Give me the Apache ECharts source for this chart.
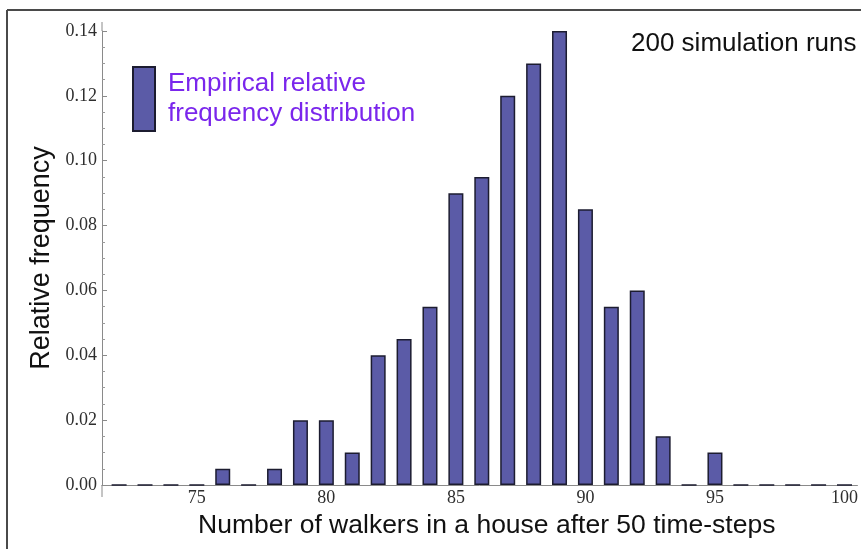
<!DOCTYPE html>
<html><head><meta charset="utf-8">
<script src="https://cdn.jsdelivr.net/npm/echarts@6/dist/echarts.min.js"></script>
<style>html,body{margin:0;padding:0;background:#fff}#c{width:861px;height:549px}</style>
</head><body><div id="c"></div>
<script>
const walkers = [72,73,74,75,76,77,78,79,80,81,82,83,84,85,86,87,88,89,90,91,92,93,94,95,96,97,98,99,100];
const relFreq = [0,0,0,0,0.005,0,0.005,0.02,0.02,0.01,0.04,0.045,0.055,0.09,0.095,0.12,0.13,0.14,0.085,0.055,0.06,0.015,0,0.01,0,0,0,0,0];
const titleText = '200 simulation runs';
const seriesName = 'Empirical relative\nfrequency distribution';
const xName = 'Number of walkers in a house after 50 time-steps';
const yName = 'Relative frequency';
const xMin = 71.34, xMax = 100.5;
const yMin = 0, yMax = 0.14, yStep = 0.02, xStep = 5;

const chart = echarts.init(document.getElementById('c'), null, {renderer: 'canvas'});
const axisGray = '#8a8a8a';
chart.setOption({
  animation: false,
  backgroundColor: '#fff',
  title: {text: titleText, left: 626, top: 26,
    textStyle: {fontFamily: 'Liberation Sans', fontSize: 26, fontWeight: 'normal', color: '#111'}},
  legend: {left: 127, top: 59, itemWidth: 22, itemHeight: 64, icon: 'rect',
    textStyle: {fontFamily: 'Liberation Sans', fontSize: 26, color: '#7a26ec', lineHeight: 30, padding: [10, 0, 0, 8]},
    data: [seriesName]},
  grid: {left: 102, right: -3, top: 31, bottom: 64},
  xAxis: {type: 'value', min: xMin, max: xMax, minInterval: xStep, maxInterval: xStep,
    name: xName, nameLocation: 'middle', nameGap: 26,
    nameTextStyle: {fontFamily: 'Liberation Sans', fontSize: 26.5, color: '#111', verticalAlign: 'top', padding: [0, 0, 0, 14]},
    axisLine: {onZero: false, lineStyle: {color: axisGray}},
    axisTick: {show: false}, splitLine: {show: false},
    axisLabel: {showMinLabel: false, showMaxLabel: false, margin: 4,
      fontFamily: 'Liberation Serif', fontSize: 18, color: '#2e2e2e'}},
  yAxis: {type: 'value', min: yMin, max: yMax, interval: yStep,
    name: yName, nameLocation: 'middle', nameGap: 46,
    nameTextStyle: {fontFamily: 'Liberation Sans', fontSize: 27, color: '#111'},
    axisLine: {show: true, lineStyle: {color: axisGray}},
    axisTick: {show: true, inside: true, length: 5, lineStyle: {color: axisGray}},
    minorTick: {show: true, splitNumber: 4, length: 3, lineStyle: {color: '#9a9a9a'}},
    splitLine: {show: false},
    axisLabel: {formatter: v => v.toFixed(2), margin: 5,
      fontFamily: 'Liberation Serif', fontSize: 18, color: '#2e2e2e'}},
  series: [{
    type: 'bar', name: seriesName,
    data: walkers.map((w, i) => [w, relFreq[i]]),
    barWidth: 15,
    itemStyle: {color: '#5b5ba7', borderColor: '#1c1c30', borderWidth: 1.5}
  }]
});
const pBot = chart.convertToPixel({gridIndex: 0}, [xMin, yMin]);
const pTop = chart.convertToPixel({gridIndex: 0}, [xMin, yMax]);
chart.setOption({
  graphic: [
    {type: 'line', shape: {x1: pBot[0], y1: pBot[1], x2: pBot[0], y2: pBot[1] + 12}, style: {stroke: axisGray, lineWidth: 1}},
    {type: 'line', shape: {x1: pTop[0], y1: pTop[1], x2: pTop[0], y2: pTop[1] - 9}, style: {stroke: axisGray, lineWidth: 1}},
    {type: 'line', shape: {x1: 7, y1: 10, x2: 861, y2: 10}, style: {stroke: '#4a4a4a', lineWidth: 2}},
    {type: 'line', shape: {x1: 7, y1: 10, x2: 7, y2: 549}, style: {stroke: '#4a4a4a', lineWidth: 2}}
  ]
});
</script></body></html>
